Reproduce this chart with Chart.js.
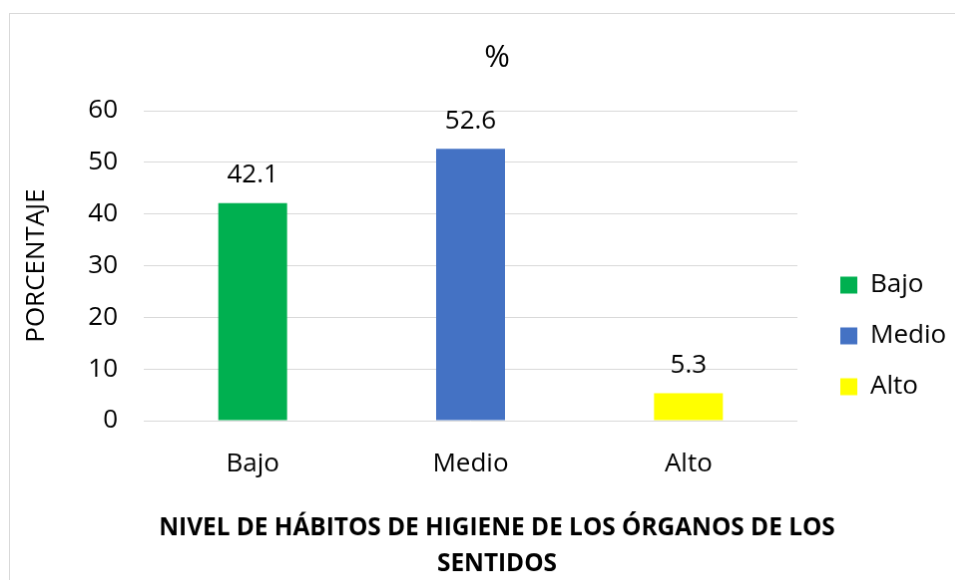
<!DOCTYPE html>
<html>
<head>
<meta charset="utf-8">
<script src="https://cdn.jsdelivr.net/npm/chart.js@4/dist/chart.umd.min.js"></script>
<style>
  html, body { margin: 0; padding: 0; width: 955px; height: 580px; overflow: hidden; background: #fff; }
  #chart { position: absolute; left: 9px; top: 13px; border: 1px solid #d9d9d9; }
</style>
</head>
<body>
<canvas id="chart" width="976" height="580"></canvas>
<script>
// data
const categories = ['Bajo', 'Medio', 'Alto'];
const percentages = [42.1, 52.6, 5.3];
const barColors = ['#00b050', '#4472c4', '#ffff00'];
const yTicks = [0, 10, 20, 30, 40, 50, 60];
const chartTitle = '%';
const yTitle = 'PORCENTAJE';
const xTitle = ['NIVEL DE HÁBITOS DE HIGIENE DE LOS ÓRGANOS DE LOS', 'SENTIDOS'];

Chart.defaults.font.family = '"Open Sans", sans-serif';
Chart.defaults.color = '#000';

const LEGEND_WIDTH = 169;
const LEGEND_SHIFT = 4;

// keep the legend box a fixed width so its items sit where the original has them
const legendBox = {
    id: 'legendBox',
    beforeLayout(chart) {
        const lg = chart.legend;
        if (!lg || lg._fixed) return;
        const fit = lg.fit.bind(lg);
        lg.fit = function () { fit(); this.width = LEGEND_WIDTH; };
        lg._fixed = true;
    },
    afterLayout(chart) {
        const lg = chart.legend;
        if (!lg) return;
        lg.top += LEGEND_SHIFT;
        lg.bottom += LEGEND_SHIFT;
    }
};

// value labels above the bars
const barValues = {
    id: 'barValues',
    afterDatasetsDraw(chart) {
        const { ctx } = chart;
        const meta = chart.getDatasetMeta(0);
        ctx.save();
        ctx.font = '26px "Open Sans", sans-serif';
        ctx.fillStyle = '#000';
        ctx.textAlign = 'center';
        ctx.textBaseline = 'middle';
        meta.data.forEach((bar, i) => {
            ctx.fillText(percentages[i].toFixed(1), bar.x, bar.y - 28);
        });
        ctx.restore();
    }
};

new Chart(document.getElementById('chart'), {
    type: 'bar',
    data: {
        labels: categories,
        datasets: [{
            label: chartTitle,
            data: percentages,
            backgroundColor: barColors,
            borderWidth: 0,
            barPercentage: 0.316,
            categoryPercentage: 1
        }]
    },
    options: {
        responsive: false,
        animation: false,
        layout: { padding: 0 },
        plugins: {
            title: {
                display: true,
                text: chartTitle,
                font: { size: 31, weight: 'normal' },
                color: '#000',
                padding: { top: 25.4, bottom: 34.4 }
            },
            subtitle: {
                display: true,
                position: 'bottom',
                text: xTitle,
                font: { size: 24.4, weight: 'bold', lineHeight: 36 / 24.4 },
                color: '#000',
                padding: { top: 30, bottom: 10 }
            },
            legend: {
                position: 'right',
                align: 'end',
                fullSize: false,
                labels: {
                    boxWidth: 17,
                    boxHeight: 17,
                    padding: 25,
                    font: { size: 26 },
                    color: '#000',
                    generateLabels: () => categories.map((c, i) => ({
                        text: c,
                        fillStyle: barColors[i],
                        strokeStyle: barColors[i],
                        lineWidth: 0,
                        hidden: false,
                        index: i
                    }))
                }
            },
            tooltip: { enabled: false }
        },
        scales: {
            x: {
                grid: { display: false },
                border: { display: false },
                ticks: { padding: 20, font: { size: 26 }, color: '#000' },
                afterFit: s => { s.height = 60; }
            },
            y: {
                min: 0,
                max: 60,
                grid: { color: '#d9d9d9', lineWidth: 1, drawTicks: false },
                border: { display: false },
                ticks: { padding: 26, font: { size: 26 }, color: '#000' },
                afterBuildTicks: s => { s.ticks = yTicks.map(v => ({ value: v })); },
                title: {
                    display: true,
                    text: yTitle,
                    font: { size: 26 },
                    color: '#000',
                    padding: { top: 11, bottom: 0 }
                },
                afterFit: s => { s.width = 134; }
            },
            gap: {
                position: 'right',
                display: true,
                grid: { display: false },
                border: { display: false },
                ticks: { display: false },
                afterFit: s => { s.width = 18; }
            }
        }
    },
    plugins: [legendBox, barValues]
});
</script>
</body>
</html>
